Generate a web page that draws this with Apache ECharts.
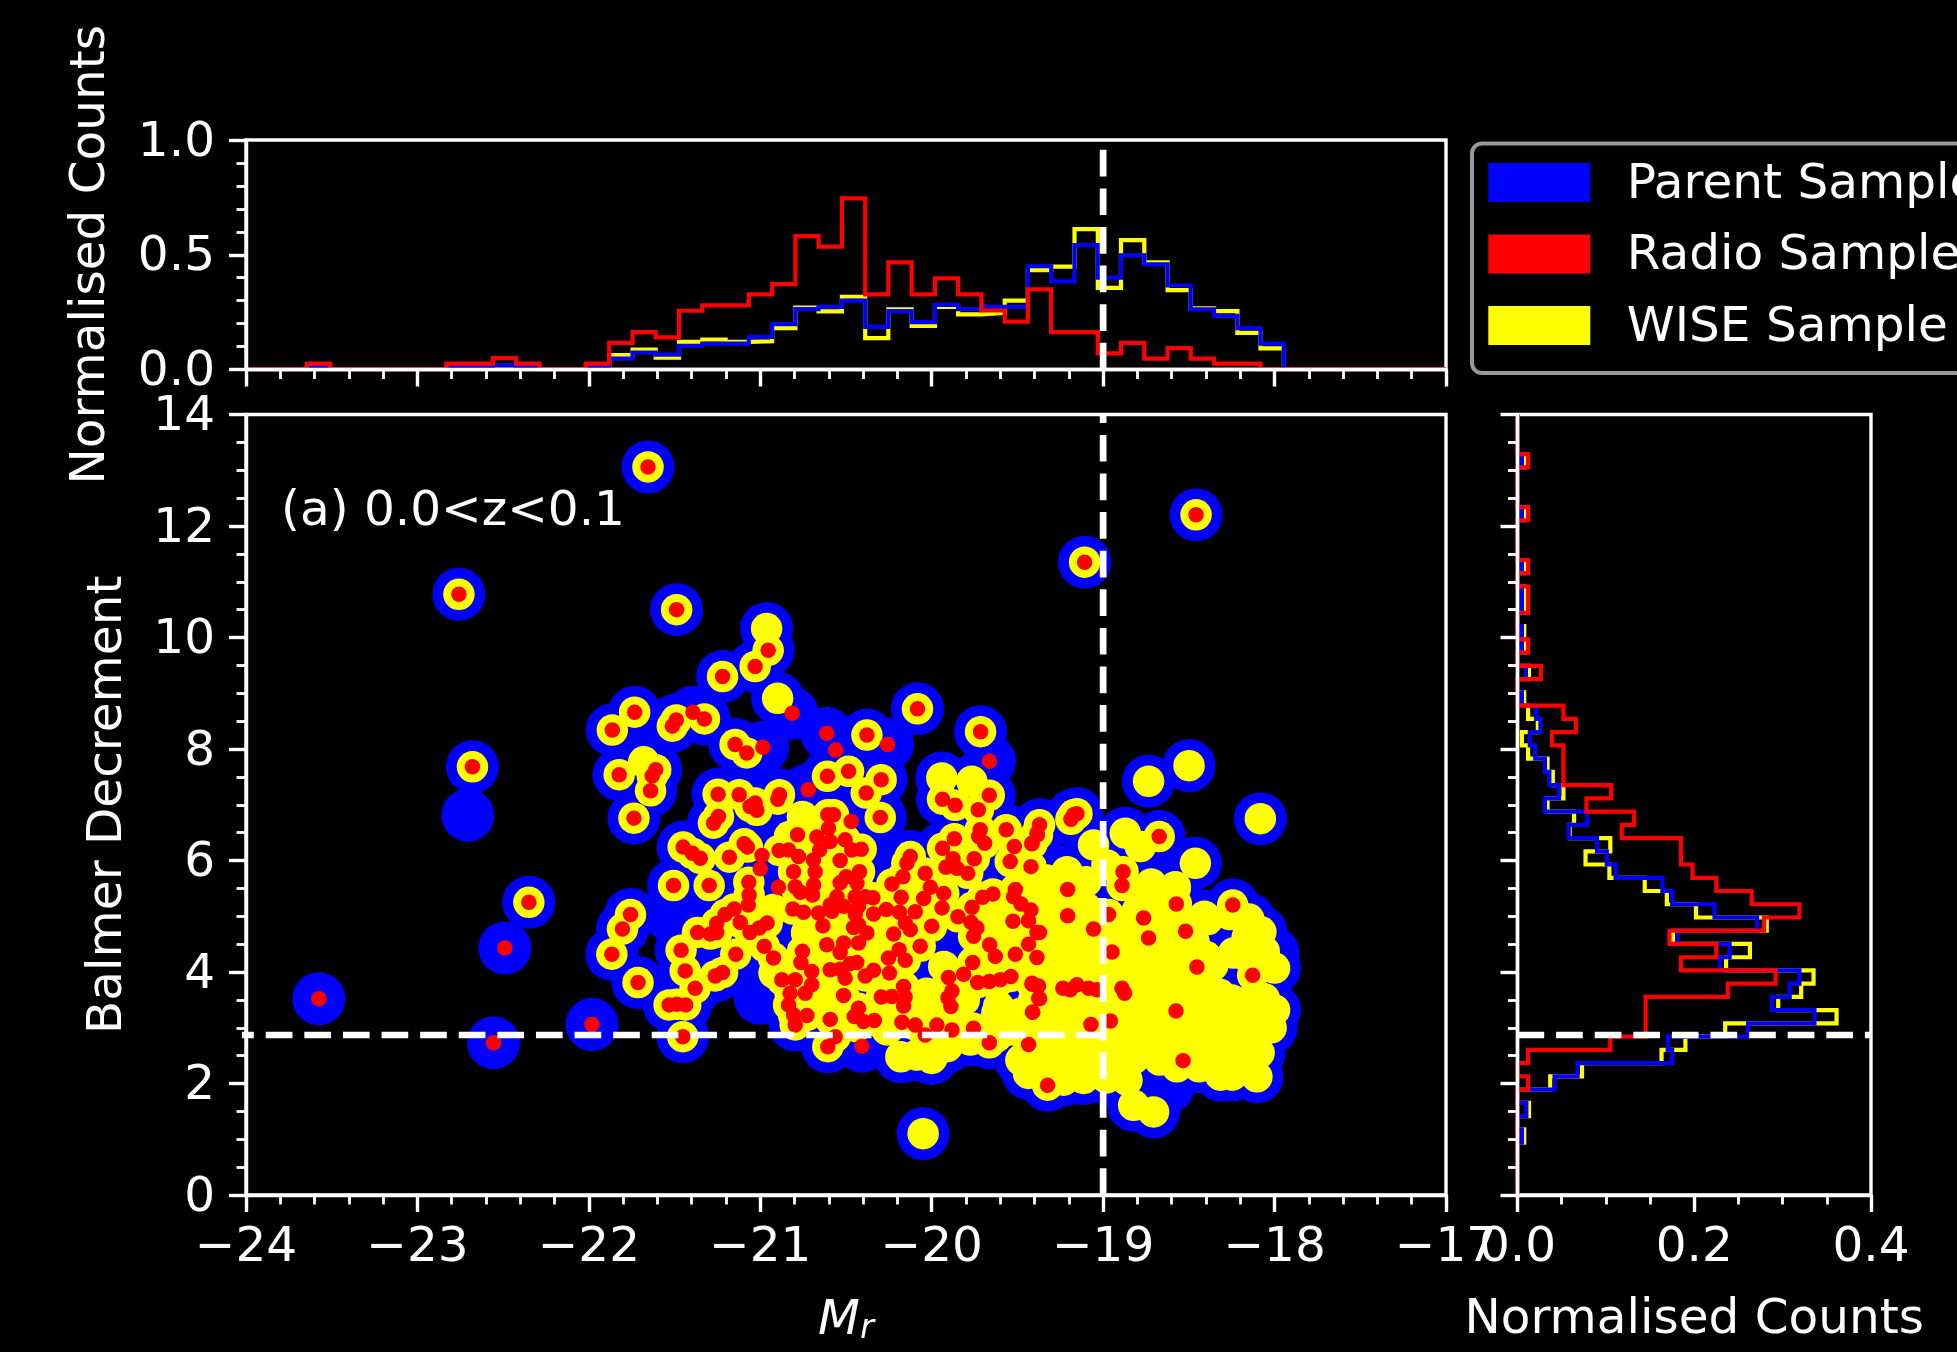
<!DOCTYPE html>
<html><head><meta charset="utf-8">
<style>html,body{margin:0;padding:0;background:#000}#c{width:1957px;height:1352px}</style>
<script src="https://cdn.jsdelivr.net/npm/echarts@6/dist/echarts.min.js"></script>
</head><body><div id="c"></div>
<script>
// Scatter: [M_r, Balmer decrement]
const radioOnly=[[-23.575,3.52],[-22.556,2.73],[-22.49,4.43],[-21.982,3.06],[-21.393,8.66],[-20.814,8.64],[-20.612,8.28],[-20.56,7.98],[-20.258,8.08],[-19.663,7.78],[-20.985,8.03],[-20.72,7.27],[-20.99,6.09],[-21.0,5.85],[-20.894,5.52],[-20.47,6.70],[-20.407,2.67]];
const radioWise=[[-21.655,13.06],[-22.758,10.775],[-21.488,10.50],[-22.679,7.68],[-22.35,5.25],[-21.22,9.30],[-19.108,11.35],[-18.458,12.2],[-20.954,9.77],[-21.03,9.48],
[-20.083,8.72],[-19.715,8.31],[-20.378,8.25],[-21.733,8.66],[-21.863,8.34],[-21.513,8.41],[-21.49,8.52],[-21.326,8.54],[-21.823,7.54],[-21.61,7.63],[-21.63,7.52],[-21.64,7.25],[-21.737,6.76],
[-21.147,8.08],[-21.079,7.93],[-21.246,7.19],[-21.123,7.18],[-21.03,7.03],[-21.06,6.97],[-21.02,6.9],[-20.888,7.18],[-20.898,7.10],[-21.244,6.79],[-21.273,6.67],
[-21.45,6.24],[-21.396,6.13],[-21.35,6.04],[-21.094,6.30],[-21.075,6.24],[-21.18,6.06],[-20.89,6.18],[-20.835,6.19],[-21.506,5.55],[-21.298,5.55],[-21.067,5.61],[-21.065,5.38],[-21.07,5.2],
[-20.81,5.13],[-20.748,5.07],[-21.757,5.03],[-21.804,4.77],[-21.866,4.32],[-21.713,3.81],[-21.452,2.84],[-21.462,4.39],[-21.438,4.02],[-21.38,3.71],[-21.532,3.41],[-21.487,3.42],[-21.435,3.41],
[-21.366,4.71],[-21.292,4.68],[-21.254,4.71],[-21.254,4.87],[-21.205,5.03],[-21.152,5.13],[-21.117,4.89],[-21.06,4.71],[-21.006,4.79],[-20.96,4.88],[-21.143,4.32],[-21.263,3.93],[-21.22,3.99],
[-20.977,4.46],[-20.923,4.25],[-20.754,4.37],[-20.763,4.17],[-20.70,4.01],[-20.874,3.86],[-20.796,3.86],[-20.826,3.62],[-20.835,3.41],[-20.70,3.77],[-20.738,3.62],[-20.806,3.23],[-20.728,3.22],[-20.796,3.05],
[-20.608,7.51],[-20.485,7.60],[-20.295,7.45],[-20.382,7.21],[-20.30,6.77],[-20.606,6.82],[-20.573,6.82],[-20.602,6.58],[-20.783,6.46],[-20.67,6.42],[-20.592,6.34],[-20.505,6.37],[-20.466,6.19],[-20.411,6.2],[-20.654,6.19],[-20.777,6.07],[-20.69,6.01],[-20.534,6.0],[-20.806,5.80],[-20.68,5.80],[-20.421,5.80],[-20.499,5.71],[-20.534,5.6],[-20.436,5.59],[-20.796,5.53],[-20.689,5.56],[-20.767,5.43],[-20.695,5.38],
[-20.553,5.35],[-20.446,5.35],[-20.388,5.35],[-20.343,5.33],[-20.592,5.2],[-20.66,5.06],[-20.582,5.09],[-20.514,5.18],[-20.427,5.18],[-20.446,5.03],[-20.339,5.04],[-20.265,5.12],[-20.188,5.07],[-20.635,4.83],[-20.456,4.80],[-20.427,4.85],[-20.378,4.70],[-20.427,4.52],[-20.612,4.49],[-20.514,4.52],[-20.534,4.35],
[-20.252,4.25],[-20.19,4.40],[-20.154,4.21],[-20.067,4.46],[-20.222,4.68],[-20.125,4.76],[-20.096,5.08],[-20.154,4.88],[-20.0,4.82],[-19.94,5.15],[-19.93,5.41],[-20.047,5.32],[-20.008,5.52],[-20.178,5.34],[-20.232,5.58],[-20.168,5.71],[-20.145,5.95],[-20.125,6.07],[-20.038,5.77],
[-19.937,6.22],[-19.868,6.39],[-19.876,6.03],[-19.917,5.88],[-19.853,5.86],[-19.79,5.77],[-19.752,6.03],[-19.937,7.10],[-19.863,6.99],[-19.664,7.17],[-19.728,6.91],[-19.717,6.55],[-19.726,6.43],[-19.691,6.31],[-19.565,6.55],[-19.518,6.25],[-19.415,6.31],[-19.386,6.49],[-19.542,5.98],[-19.421,5.89],[-19.512,5.48],[-19.522,5.35],[-19.643,5.40],[-19.703,5.34],[-19.765,5.16],[-19.847,4.99],[-19.771,4.89],[-19.736,4.79],[-19.756,4.64],[-19.479,5.22],[-19.421,5.11],[-19.435,4.92],[-19.526,4.91],[-19.386,4.71],[-19.435,4.50],[-19.512,4.32],[-19.386,4.26],[-19.662,4.49],[-19.629,4.28],[-19.761,4.17],[-19.814,3.96],[-19.902,3.90],[-19.882,3.66],[-19.905,3.54],[-19.888,3.38],[-19.732,3.81],[-19.664,3.83],[-19.6,3.86],[-19.538,3.92],[-19.415,3.80],[-19.376,3.53],[-19.411,3.28],[-19.435,2.70],[-19.664,2.73],[-19.756,2.99],[-19.882,2.96],[-19.97,3.05],[-20.038,2.87],[-20.096,3.05],[-20.174,3.10],
[-20.164,3.74],[-20.294,3.55],[-20.232,3.56],[-20.155,3.55],[-20.164,3.39],[-20.246,3.98],[-20.339,4.03],[-20.388,3.93],[-20.437,4.17],[-20.475,4.15],[-20.534,4.05],[-20.592,4.04],[-20.505,3.89],[-20.514,3.58],[-20.427,3.35],[-20.452,3.2],[-20.398,3.11],[-20.335,3.13],[-20.592,3.15],[-20.563,2.84],[-20.606,2.66],
[-19.172,6.82],[-19.153,6.84],[-19.188,6.74],[-18.673,6.43],[-18.244,5.2],[-18.884,5.80],[-18.89,5.55],[-19.207,5.48],[-19.371,6.64],[-19.383,6.46],[-19.416,6.30],[-19.371,4.71],[-19.207,5.01],[-19.056,4.77],[-18.968,5.03],[-18.573,5.22],[-18.764,4.97],[-18.735,4.61],[-18.519,4.73],[-18.948,4.36],[-18.453,4.09],[-18.128,3.94],[-18.89,3.71],[-18.875,3.62],[-19.235,3.71],[-19.192,3.68],[-19.153,3.77],[-19.085,3.71],[-19.036,3.68],[-19.414,3.78],[-19.377,3.75],[-19.371,3.52],[-19.412,3.28],[-18.575,3.30],[-18.958,3.12],[-19.071,3.06],[-18.534,2.41],[-19.324,1.97]];
const wiseOnly=[[-20.963,10.16],[-20.899,8.91],[-19.941,7.48],[-19.766,7.42],[-18.735,7.42],[-18.499,7.70],[-18.083,6.75],[-20.754,6.79],[-18.462,5.95],[-18.871,6.49],[-18.783,6.25],[-19.056,6.28],[-18.978,5.92],[-19.211,5.80],[-18.579,5.53],[-18.725,5.35],[-20.05,1.1],[-20.925,5.12],[-20.9,3.98],[-20.75,6.73],[-21.68,7.77],
[-19.35,5.6],[-19.10,5.62],[-18.72,5.58],[-18.58,5.5],[-19.29,5.1],[-19.10,5.15],[-19.04,5.05],[-18.80,5.1],[-18.61,5.05],[-18.41,5.0],[-18.26,5.03],[-18.15,4.95],
[-19.23,4.62],[-19.08,4.6],[-18.92,4.55],[-18.76,4.62],[-18.61,4.6],[-18.47,4.55],[-18.16,4.62],[-18.06,4.37],
[-19.27,4.1],[-19.11,4.12],[-18.96,4.08],[-18.80,4.1],[-18.65,4.13],[-18.49,4.08],[-18.36,4.12],[-18.14,4.2],[-18.0,4.07],
[-19.21,3.7],[-19.07,3.55],[-18.74,3.72],[-18.59,3.66],[-18.43,3.72],[-18.32,3.6],[-18.14,3.5],[-18.0,3.32],
[-19.58,3.27],[-19.27,3.28],[-19.13,3.25],[-18.84,3.28],[-18.69,3.26],[-18.51,3.27],[-18.36,3.3],[-18.18,3.25],[-18.02,3.25],
[-19.35,2.9],[-19.19,2.88],[-19.04,2.92],[-18.86,2.9],[-18.69,2.87],[-18.53,2.9],[-18.37,2.88],[-18.22,2.91],[-18.02,3.0],
[-19.45,2.45],[-19.29,2.43],[-19.13,2.47],[-18.98,2.44],[-18.82,2.45],[-18.67,2.42],[-18.51,2.45],[-18.36,2.44],[-18.2,2.46],[-18.09,2.55],
[-19.435,2.18],[-19.231,2.06],[-19.114,2.09],[-18.98,2.1],[-18.861,2.06],[-18.569,2.3],[-18.316,2.15],[-18.248,2.15],[-18.103,2.12],[-18.822,1.61],[-18.706,1.49],
[-20.18,2.48],[-20.086,2.51],[-20.0,2.45],[-19.93,4.10],[-20.03,3.62],[-20.05,3.26],[-19.95,3.38],[-19.81,3.5],[-19.62,3.26],[-19.52,3.02],[-19.435,2.42],[-19.62,5.0],[-19.56,4.7],[-19.52,3.98],[-19.6,5.18],[-20.67,3.5],[-20.92,3.98],[-19.33,5.65],[-19.3,4.4],[-19.28,3.9],
[-20.83,6.43],[-20.73,4.70],[-20.34,4.40],[-20.38,4.76],[-20.30,4.28],[-20.14,4.52],[-20.65,4.28],[-20.65,3.68],[-20.62,3.35],[-20.76,3.5],[-20.30,3.14],[-20.26,2.96],[-20.44,3.02],[-20.03,2.66],[-19.91,2.66],[-19.97,2.72],[-19.775,2.78],[-19.62,2.84],[-19.54,2.96],[-19.48,2.42],[-19.435,2.24],[-19.85,3.2],[-19.61,3.38],[-19.48,3.26],[-19.405,3.5],[-19.6,4.16],[-19.48,4.1],[-19.56,4.94],[-19.72,4.28],[-19.56,4.46],[-19.38,4.1],[-19.52,3.08],
[-19.17,5.35],[-19.31,5.33],[-19.18,4.85],[-19.0,4.86],[-18.85,4.84],[-18.69,4.83],[-18.53,4.87],[-18.39,4.94],[-18.08,4.72],
[-19.18,4.34],[-19.0,4.33],[-18.85,4.36],[-18.69,4.35],[-18.54,4.33],[-18.4,4.28],[-18.24,4.34],[-18.12,4.4],
[-19.2,3.92],[-19.03,3.9],[-18.88,3.92],[-18.72,3.9],[-18.57,3.91],[-18.42,3.88],[-18.29,3.32],
[-19.2,3.5],[-19.0,3.48],[-18.82,3.5],[-18.66,3.5],[-18.5,3.49],[-18.37,3.5],[-18.25,3.5],[-18.06,3.52],
[-19.22,3.05],[-19.1,3.04],[-18.95,3.06],[-18.78,3.05],[-18.61,3.04],[-18.45,3.06],[-18.3,3.03],[-18.12,3.06],
[-19.4,2.65],[-19.2,2.66],[-19.05,2.65],[-18.9,2.66],[-18.75,2.62],[-18.6,2.66],[-18.44,2.65],[-18.28,2.66],[-18.14,2.7],
[-19.33,2.25],[-19.2,2.2],[-19.05,2.25],[-18.92,2.24],[-18.44,2.3],[-18.18,2.25]];
const parentOnly=[[-22.706,6.81],[-21.52,5.0],[-21.47,4.8],[-21.0,3.53],[-18.62,1.94],[-18.01,4.35],[-18.1,4.75],[-19.7,7.5]];

// Histogram of M_r: shared bin edges, normalised counts per bin
const mrEdges=[-23.645,-23.509,-23.374,-23.238,-23.102,-22.967,-22.831,-22.695,-22.559,-22.424,-22.288,-22.152,-22.017,-21.881,-21.745,-21.61,-21.474,-21.338,-21.202,-21.067,-20.931,-20.795,-20.66,-20.524,-20.388,-20.253,-20.117,-19.981,-19.846,-19.71,-19.574,-19.439,-19.303,-19.167,-19.031,-18.896,-18.76,-18.624,-18.489,-18.353,-18.217,-18.082,-17.946];
const mrParent=[.009,0,0,0,0,0,.009,.009,.019,.009,0,0,.009,.047,.074,.065,.103,.113,.113,.142,.198,.263,.273,.30,.186,.254,.206,.282,.263,.273,.273,.45,.384,.542,.40,.497,.458,.366,.262,.234,.18,.113];
const mrRadio=[.026,0,0,0,0,0,.026,.026,.05,.026,0,0,.026,.116,.163,.14,.256,.279,.279,.327,.372,.581,.535,.746,.327,.467,.327,.397,.327,.257,.209,.349,.163,.163,.07,.116,.047,.093,.047,.026,.026,0];
const mrWise=[.009,0,0,0,0,0,.009,.009,.019,.009,0,0,.009,.0625,.087,.052,.12,.13,.12,.123,.18,.27,.253,.317,.137,.262,.19,.273,.24,.247,.30,.433,.448,.612,.356,.564,.467,.346,.266,.254,.16,.092];

// Histogram of Balmer decrement
const bdEdges=[.94,1.178,1.415,1.653,1.89,2.128,2.365,2.603,2.84,3.078,3.315,3.553,3.79,4.028,4.265,4.503,4.74,4.978,5.215,5.453,5.69,5.928,6.165,6.403,6.64,6.878,7.115,7.353,7.59,7.828,8.065,8.303,8.54,8.778,9.015,9.253,9.49,9.728,9.965,10.203,10.44,10.678,10.915,11.153,11.39,11.628,11.865,12.103,12.34,12.578,12.815,13.053,13.29];
const bdParent=[.005,0,.010,0,.042,.068,.175,.170,.261,.336,.288,.308,.319,.229,.240,.181,.271,.223,.175,.164,.111,.101,.090,.058,.079,.031,.047,.036,.031,.020,.014,.026,.021,.005,0,.0095,0,.005,.005,0,.005,.005,0,.005,0,0,0,.005,0,0,0,.005];
const bdRadio=[0,0,0,0,.012,0,.012,.105,.145,.145,.145,.238,.292,.185,.225,.172,.279,.319,.265,.225,.198,.185,.185,.118,.132,.078,.106,.052,.052,.052,.039,.066,.052,0,0,.0265,0,.012,0,0,.012,.012,0,.012,0,0,0,.012,0,0,0,.012];
const bdWise=[.0076,0,.013,0,.037,.073,.163,.190,.235,.361,.295,.321,.335,.236,.263,.176,.282,.202,.169,.144,.104,.077,.105,.059,.064,.034,.052,.040,.034,.012,.005,.023,.012,.0076,0,.013,0,.0076,.0076,0,.0076,.0076,0,.0076,0,0,0,.0076,0,0,0,.0076];

const cutMr=-19, cutBD=2.87;
const cutLeft=-24.11;
const legendNames=['Parent Sample','Radio Sample','WISE Sample'];
const BLUE='#0000ff',RED='#ff0000',YEL='#ffff00',WHITE='#ffffff',FONT='DejaVu Sans';

function outlineX(edges,vals,lo,hi){const p=[[lo,0],[edges[0],0]];vals.forEach((v,i)=>{p.push([edges[i],v],[edges[i+1],v]);});p.push([edges[vals.length],0],[hi,0]);return p;}
function outlineY(edges,vals,lo,hi){const p=[[0,lo],[0,edges[0]]];vals.forEach((v,i)=>{p.push([v,edges[i]],[v,edges[i+1]]);});p.push([0,edges[vals.length]],[0,hi]);return p;}
const fs=48.5;
const TW=3.4, MW=2.8;
const majorT={show:true,length:17,lineStyle:{color:WHITE,width:TW}};
function minorT(n){return {show:true,splitNumber:n,length:9.5,lineStyle:{color:WHITE,width:MW}};}
function axis(o){return Object.assign({type:'value',z:30,axisLine:{show:true,onZero:false,lineStyle:{color:WHITE,width:TW}},
 axisTick:majorT,splitLine:{show:false},minorSplitLine:{show:false},
 nameTextStyle:{color:WHITE,fontSize:fs,fontFamily:FONT},nameLocation:'middle'},o);}
const xLab=f=>({color:WHITE,fontSize:fs,fontFamily:FONT,margin:29,formatter:f,showMinLabel:true,showMaxLabel:true});
const yLab=f=>({color:WHITE,fontSize:fs,fontFamily:FONT,margin:31,formatter:v=>'{t|'+f(v)+'}',showMinLabel:true,showMaxLabel:true,
  rich:{t:{color:WHITE,fontSize:fs,fontFamily:FONT,padding:[6,0,0,0]}}});
const minus=v=>String(v).replace('-','\u2212');
const oneDp=v=>v.toFixed(1);
const plain=v=>String(v);
function hist(name,xi,yi,data,color,z){return {name,type:'line',xAxisIndex:xi,yAxisIndex:yi,data,showSymbol:false,symbol:'none',silent:true,animation:false,z,clip:true,lineStyle:{color,width:4.2,join:'miter',cap:'butt'}};}
function dash(name,xi,yi,data){return {name,type:'line',xAxisIndex:xi,yAxisIndex:yi,data,showSymbol:false,symbol:'none',silent:true,animation:false,z:20,clip:true,lineStyle:{color:WHITE,width:6.7,type:[26.7,11.9],cap:'butt'}};}
function scat(name,data,color,size,z){return {name,type:'scatter',xAxisIndex:1,yAxisIndex:1,data,symbol:'circle',symbolSize:size,silent:true,animation:false,z,itemStyle:{color,opacity:1},progressive:0};}

const chart=echarts.init(document.getElementById('c'),null,{renderer:'canvas'});
chart.setOption({
 backgroundColor:'#000',animation:false,
 textStyle:{fontFamily:FONT,color:WHITE},
 grid:[
  {left:246,top:140,width:1200,height:229.5,show:true,borderColor:WHITE,borderWidth:TW,backgroundColor:'#000',containLabel:false},
  {left:246,top:414.5,width:1200,height:780.5,show:true,borderColor:WHITE,borderWidth:TW,backgroundColor:'#000',containLabel:false},
  {left:1517.5,top:414.5,width:353.5,height:780.5,show:true,borderColor:WHITE,borderWidth:TW,backgroundColor:'#000',containLabel:false}],
 xAxis:[
  axis({gridIndex:0,min:-24,max:-17,interval:1,minorTick:minorT(5),axisLabel:{show:false}}),
  axis({gridIndex:1,min:-24,max:-17,interval:1,minorTick:minorT(5),axisLabel:xLab(minus),
    name:'{i|M}{s|r}',nameGap:101,nameTextStyle:{color:WHITE,rich:{i:{fontSize:fs,fontStyle:'italic',fontFamily:FONT,color:WHITE},s:{fontSize:34,fontStyle:'italic',fontFamily:FONT,color:WHITE,verticalAlign:'bottom',padding:[16,0,0,0]}}}}),
  axis({gridIndex:2,min:0,max:0.4,interval:0.2,minorTick:minorT(4),axisLabel:xLab(oneDp),name:'Normalised Counts',nameGap:101})],
 yAxis:[
  axis({gridIndex:0,min:0,max:1,interval:0.5,minorTick:minorT(5),axisLabel:yLab(oneDp),name:'Normalised Counts',nameGap:130}),
  axis({gridIndex:1,min:0,max:14,interval:2,minorTick:minorT(4),axisLabel:yLab(plain),name:'Balmer Decrement',nameGap:113}),
  axis({gridIndex:2,min:0,max:14,interval:2,minorTick:minorT(4),axisLabel:{show:false}})],
 legend:{show:true,orient:'vertical',left:1472,top:143.5,data:legendNames,icon:'rect',itemWidth:102,itemHeight:39,itemGap:22.5,
   padding:[17,60,20.5,16.3],backgroundColor:'#000',borderColor:'#999999',borderWidth:4,borderRadius:10,selectedMode:false,
   formatter:n=>'{t|'+n+'}',
   textStyle:{color:WHITE,fontSize:fs,fontFamily:FONT,padding:[0,0,0,31.5],rich:{t:{color:WHITE,fontSize:fs,fontFamily:FONT,padding:[5,0,0,0]}}}},
 title:{show:true,text:'(a) 0.0<z<0.1',left:281,top:488,padding:0,textStyle:{color:WHITE,fontSize:fs,fontWeight:'normal',fontFamily:FONT}},
 series:[
  hist('mrWiseH',0,0,outlineX(mrEdges,mrWise,-24,-17),YEL,3),
  hist('mrParentH',0,0,outlineX(mrEdges,mrParent,-24,-17),BLUE,4),
  hist('mrRadioH',0,0,outlineX(mrEdges,mrRadio,-24,-17),RED,5),
  dash('cutTop',0,0,[[cutMr,0],[cutMr,1]]),
  scat(legendNames[0],parentOnly.concat(radioOnly,radioWise,wiseOnly),BLUE,53,3),
  scat(legendNames[2],radioWise.concat(wiseOnly),YEL,31.5,4),
  scat(legendNames[1],radioOnly.concat(radioWise),RED,15.5,5),
  dash('cutV',1,1,[[cutMr,0],[cutMr,14]]),
  dash('cutH',1,1,[[cutLeft,cutBD],[cutMr,cutBD]]),
  hist('bdWiseH',2,2,outlineY(bdEdges,bdWise,0,14),YEL,3),
  hist('bdParentH',2,2,outlineY(bdEdges,bdParent,0,14),BLUE,4),
  hist('bdRadioH',2,2,outlineY(bdEdges,bdRadio,0,14),RED,5),
  dash('cutR',2,2,[[0,cutBD],[0.4,cutBD]])
 ]
});
</script></body></html>
